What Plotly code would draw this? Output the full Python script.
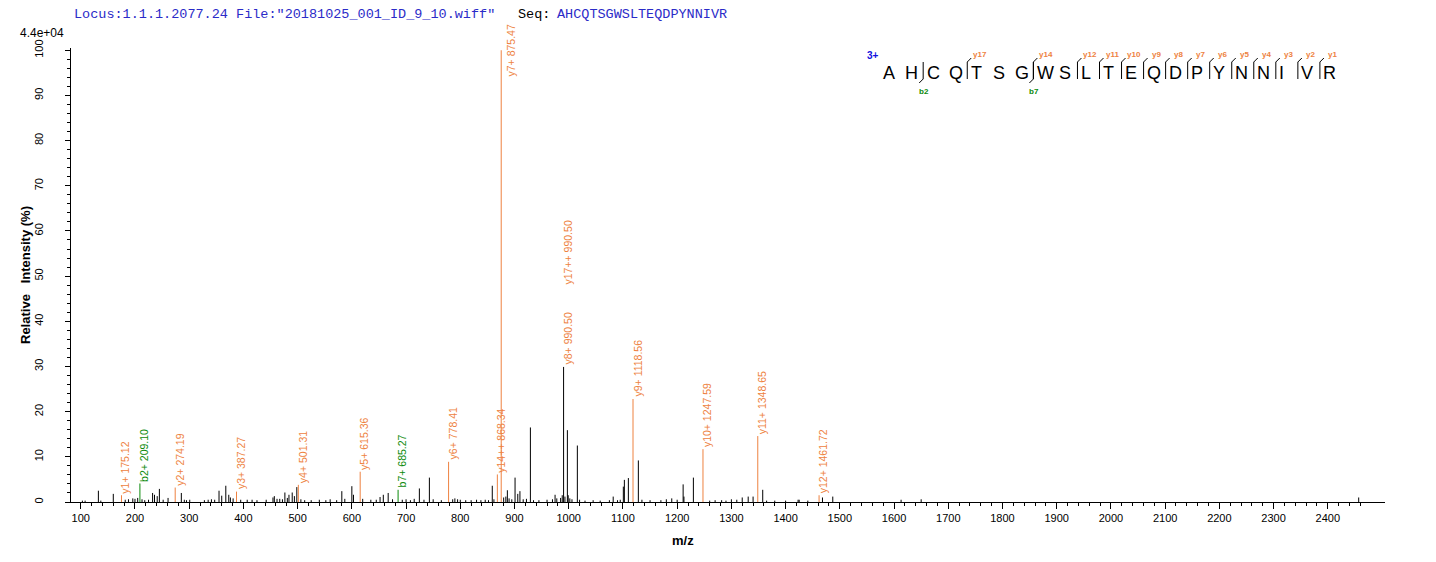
import plotly.graph_objects as go

# ---------------- data ----------------
peak_mz = [103, 108, 132.5, 137, 160, 182, 188, 196, 200, 205, 213, 218, 225, 232.5, 236, 241, 245,
           252, 261, 285.5, 291, 295, 301, 328, 335, 341, 347, 355, 360, 367.5, 373, 376, 381, 395,
           407, 416, 425, 442, 454.5, 457, 462, 467, 472, 476.5, 481, 484, 490, 494, 498.5, 506, 513,
           525, 540, 552, 560, 572, 581.5, 587, 600, 603, 620, 635, 645, 652, 658, 667, 675, 693, 700,
           708, 715, 724.5, 733, 743, 750, 765, 786, 790, 795, 800, 810, 820, 830, 838, 846, 852, 859,
           862, 880, 884, 886.8, 890, 895, 901, 906, 910, 916, 922, 929.3, 935, 945, 960, 970, 974.8,
           978, 985, 988, 990.5, 993, 997.5, 999, 1002, 1006, 1015.9, 1020, 1030, 1045, 1058, 1075,
           1082, 1090, 1095, 1100.7, 1102.6, 1110, 1128.4, 1135, 1150, 1170, 1180, 1190, 1200, 1211,
           1212.5, 1229.9, 1260, 1270, 1282, 1290, 1300, 1310, 1320, 1331, 1340, 1357.8, 1365, 1380,
           1400, 1423, 1425, 1441, 1468, 1487, 1613, 1650, 2457]
peak_int = [0.3, 0.3, 2.5, 0.3, 1.8, 0.5, 0.6, 0.8, 0.7, 0.9, 0.6, 0.4, 0.5, 2.0, 1.6, 1.3, 2.9,
            0.5, 0.9, 2.0, 0.5, 0.4, 0.5, 0.4, 0.5, 0.6, 0.5, 2.5, 1.4, 3.6, 1.6, 1.0, 0.8, 0.5,
            0.5, 0.5, 0.4, 0.5, 1.0, 1.3, 0.7, 0.7, 0.6, 2.1, 0.9, 1.6, 2.1, 1.3, 3.3, 0.6, 0.4,
            0.4, 0.5, 0.4, 0.6, 0.4, 2.4, 0.7, 3.5, 1.6, 0.7, 0.5, 0.5, 1.1, 1.6, 2.0, 0.6, 0.5, 0.6,
            0.4, 0.7, 3.0, 0.5, 5.4, 0.6, 0.4, 0.6, 0.8, 0.6, 0.5, 0.4, 0.4, 0.5, 0.4, 0.5, 0.4, 3.6,
            0.6, 1.0, 1.2, 2.6, 0.8, 0.6, 5.4, 1.8, 2.4, 0.6, 0.7, 16.5, 0.4, 0.4, 0.5, 0.6, 1.6,
            0.8, 0.9, 1.5, 29.9, 1.2, 15.9, 1.5, 0.8, 0.6, 12.5, 0.5, 0.3, 0.4, 0.3, 0.4,
            1.2, 0.4, 0.5, 3.4, 4.9, 5.3, 9.2, 0.5, 0.4, 0.4, 0.6, 0.8, 0.5, 3.9,
            1.2, 5.4, 0.3, 0.4, 0.4, 0.3, 0.6, 0.5, 1.0, 1.2, 1.2, 2.7, 0.3, 0.3,
            0.3, 0.5, 0.5, 0.3, 1.0, 1.2, 0.5, 0.6, 1.0]

y_ion_labels = ["y1+", "y2+", "y3+", "y4+", "y5+", "y6+", "y14++", "y7+", "y9+", "y10+", "y11+", "y12+"]
y_ion_mz = [175.12, 274.19, 387.27, 501.31, 615.36, 778.41, 868.34, 875.47, 1118.56, 1247.59, 1348.65, 1461.72]
y_ion_int = [1.5, 3.2, 2.3, 3.8, 6.7, 8.9, 6.1, 100.0, 22.8, 11.7, 14.6, 1.5]

b_ion_labels = ["b2+", "b7+"]
b_ion_mz = [209.10, 685.27]
b_ion_int = [4.1, 2.7]

shared_labels = ["y8+", "y17++"]
shared_mz = 990.50
shared_int = 29.9

sequence = "AHCQTSGWSLTEQDPYNNIVR"
seq_y_ions = [1, 2, 3, 4, 5, 6, 7, 8, 9, 10, 11, 12, 14, 17]
seq_b_ions = [2, 7]
charge_text = "3+"

x_ticks = list(range(100, 2401, 100))
y_ticks = list(range(0, 101, 10))

# ---------------- styling ----------------
W, H = 1436, 562
L, R, T, B = 71, 1385, 48, 502
ORANGE = "#EE8241"
GREEN = "#0A8A0A"
BLUE = "#2B2BC8"
FONT = "Liberation Sans, Arial, sans-serif"


def px_x(p):
    return (p - L) / (R - L)


def px_y(p):
    return (B - p) / (B - T)


def sticks(mzs, ints):
    xs, ys = [], []
    for m, v in zip(mzs, ints):
        xs += [m, m, None]
        ys += [0, v, None]
    return xs, ys


fig = go.Figure()
bx, by = sticks(peak_mz, peak_int)
fig.add_trace(go.Scatter(x=bx, y=by, mode="lines", line=dict(color="black", width=1),
                         hoverinfo="skip", showlegend=False))
ox, oy = sticks(y_ion_mz, y_ion_int)
fig.add_trace(go.Scatter(x=ox, y=oy, mode="lines", line=dict(color=ORANGE, width=1),
                         hoverinfo="skip", showlegend=False))
gx, gy = sticks(b_ion_mz, b_ion_int)
fig.add_trace(go.Scatter(x=gx, y=gy, mode="lines", line=dict(color=GREEN, width=1),
                         hoverinfo="skip", showlegend=False))

ann = []
shapes = []


def peak_label(text, mz, inten, color, extra_shift=0):
    if inten > 90:
        ann.append(dict(x=mz, y=100, xref="x", yref="y", text=text, textangle=-90,
                        showarrow=False, xanchor="center", yanchor="top", xshift=10, yshift=28,
                        font=dict(family=FONT, size=10.5, color=color)))
    else:
        ann.append(dict(x=mz, y=inten, xref="x", yref="y", text=text, textangle=-90,
                        showarrow=False, xanchor="center", yanchor="bottom", xshift=4,
                        yshift=extra_shift, font=dict(family=FONT, size=10.5, color=color)))


for lab, m, v in zip(y_ion_labels, y_ion_mz, y_ion_int):
    peak_label(f"{lab} {m:.2f}", m, v, ORANGE)
for lab, m, v in zip(b_ion_labels, b_ion_mz, b_ion_int):
    peak_label(f"{lab} {m:.2f}", m, v, GREEN)
for i, lab in enumerate(shared_labels):
    peak_label(f"{lab} {shared_mz:.2f}", shared_mz, shared_int, ORANGE, extra_shift=i * 80)

# header
MONO = "Liberation Mono, Courier New, monospace"
ann.append(dict(x=px_x(72), y=px_y(15), xref="paper", yref="paper", showarrow=False,
                xanchor="left", yanchor="middle",
                text='Locus:1.1.1.2077.24 File:"20181025_001_ID_9_10.wiff"',
                font=dict(family=MONO, size=13.5, color=BLUE)))
ann.append(dict(x=px_x(516), y=px_y(15), xref="paper", yref="paper", showarrow=False,
                xanchor="left", yanchor="middle", text="Seq:",
                font=dict(family=MONO, size=13.5, color="black")))
ann.append(dict(x=px_x(555), y=px_y(15), xref="paper", yref="paper", showarrow=False,
                xanchor="left", yanchor="middle", text=sequence,
                font=dict(family=MONO, size=13.5, color=BLUE)))
ann.append(dict(x=px_x(42), y=px_y(33), xref="paper", yref="paper", showarrow=False,
                xanchor="center", yanchor="middle", text="4.4e+04",
                font=dict(family=FONT, size=12, color="black")))
# axis titles
ann.append(dict(x=px_x(25), y=0.5, xref="paper", yref="paper", showarrow=False, textangle=-90,
                xanchor="center", yanchor="middle", text="<b>Relative   Intensity (%)</b>",
                font=dict(family=FONT, size=13, color="black")))
ann.append(dict(x=px_x(683), y=px_y(540), xref="paper", yref="paper", showarrow=False,
                xanchor="center", yanchor="middle", text="<b>m/z</b>",
                font=dict(family=FONT, size=13, color="black")))

# sequence fragment map
MARK0, STEP = 879.1, 22.04
LY_TOP, LY_BOT = 62, 79
ann.append(dict(x=px_x(873), y=px_y(55), xref="paper", yref="paper", showarrow=False,
                xanchor="center", yanchor="middle", text=f"<b>{charge_text}</b>",
                font=dict(family=FONT, size=10, color="#1010E0")))
for i, aa in enumerate(sequence):
    ann.append(dict(x=px_x(MARK0 + i * STEP + 1.5), y=px_y(73), xref="paper", yref="paper",
                    showarrow=False, xanchor="left", yanchor="middle", text=aa,
                    font=dict(family=FONT, size=18, color="black")))
n = len(sequence)
for k in seq_y_ions:
    mx = MARK0 + (n - k) * STEP
    shapes.append(dict(type="line", xref="paper", yref="paper", x0=px_x(mx), x1=px_x(mx),
                       y0=px_y(LY_BOT), y1=px_y(LY_TOP), line=dict(color="black", width=1)))
    shapes.append(dict(type="line", xref="paper", yref="paper", x0=px_x(mx), x1=px_x(mx + 4),
                       y0=px_y(LY_TOP), y1=px_y(LY_TOP - 4), line=dict(color="black", width=1)))
    ann.append(dict(x=px_x(mx + 12.5), y=px_y(54), xref="paper", yref="paper", showarrow=False,
                    xanchor="center", yanchor="middle", text=f"<b>y{k}</b>",
                    font=dict(family=FONT, size=8, color=ORANGE)))
for k in seq_b_ions:
    mx = MARK0 + k * STEP
    shapes.append(dict(type="line", xref="paper", yref="paper", x0=px_x(mx), x1=px_x(mx),
                       y0=px_y(LY_TOP), y1=px_y(LY_BOT), line=dict(color="black", width=1)))
    shapes.append(dict(type="line", xref="paper", yref="paper", x0=px_x(mx), x1=px_x(mx - 4),
                       y0=px_y(LY_BOT), y1=px_y(LY_BOT + 4), line=dict(color="black", width=1)))
    ann.append(dict(x=px_x(mx + 1), y=px_y(92), xref="paper", yref="paper", showarrow=False,
                    xanchor="center", yanchor="middle", text=f"<b>b{k}</b>",
                    font=dict(family=FONT, size=8, color=GREEN)))

fig.update_layout(
    width=W, height=H,
    margin=dict(l=L, r=W - R, t=T, b=H - B),
    paper_bgcolor="white", plot_bgcolor="white",
    annotations=ann, shapes=shapes,
    xaxis=dict(range=[82, 2505.5], showgrid=False, zeroline=False, showline=True,
               linecolor="black", linewidth=1, ticks="outside", ticklen=6, tickcolor="black",
               tickvals=x_ticks, ticktext=[str(v) for v in x_ticks],
               tickfont=dict(family=FONT, size=11, color="black"),
               minor=dict(tickvals=list(range(100, 2461, 20)), ticks="outside", ticklen=3,
                          tickcolor="black"),
               fixedrange=True),
    yaxis=dict(range=[0, 100.5], showgrid=False, zeroline=False, showline=True,
               linecolor="black", linewidth=1, ticks="outside", ticklen=5, tickcolor="black",
               tickvals=y_ticks, ticktext=[str(v) for v in y_ticks], tickangle=-90,
               ticklabelstandoff=18,
               tickfont=dict(family=FONT, size=11, color="black"),
               minor=dict(tickvals=list(range(0, 101, 2)), ticks="outside", ticklen=3,
                          tickcolor="black"),
               fixedrange=True),
)

fig.write_html(
    "out.html",
    config={"displayModeBar": False},
    post_script="document.body.style.margin='0';document.body.style.overflow='hidden';",
)
